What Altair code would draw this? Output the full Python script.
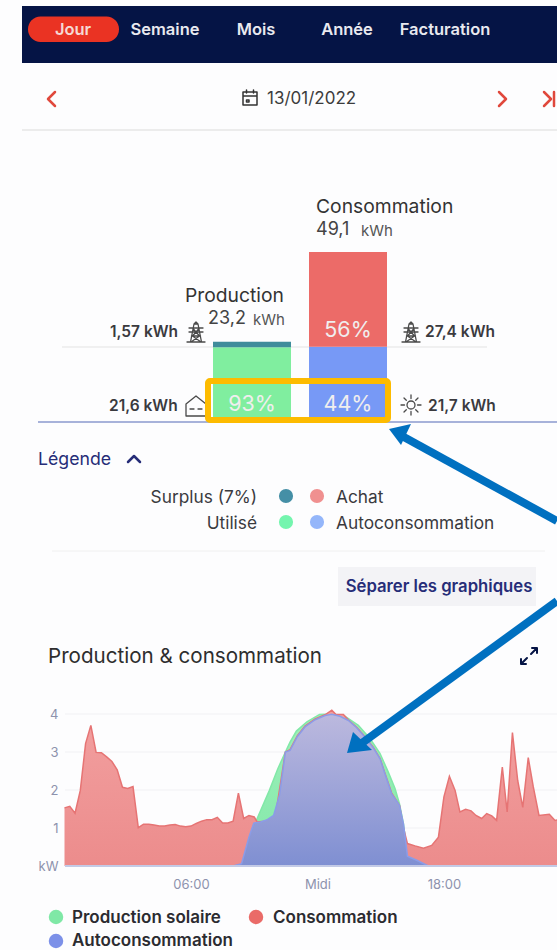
import altair as alt
import pandas as pd

# Daily energy balance, kWh
bar_columns = ["Production", "Production", "Consommation", "Consommation"]
bar_parts = ["Utilisé", "Surplus", "Autoconsommation", "Achat"]
bar_kwh = [21.6, 1.57, 21.7, 27.4]
bar_order = [0, 1, 0, 1]
bar_colors = ["#80ee9f", "#3f8c9b", "#7799f6", "#ec6b68"]
pct_labels = ["93%", "44%", "56%"]
pct_columns = ["Production", "Consommation", "Consommation"]
pct_level = [4.9, 4.9, 26.2]

# Power curves, kW against the hour of the day
cons_h = [0, .25, .5, .75, 1, 1.25, 1.5, 1.75, 2, 2.25, 2.5, 2.75, 3, 3.25, 3.5, 3.75, 4, 4.25, 4.5, 4.75,
          5, 5.25, 5.5, 5.75, 6, 6.25, 6.5, 6.75, 7, 7.25, 7.5, 7.75, 8, 8.25, 8.5, 8.75, 9, 9.14, 9.5, 10, 10.48,
          10.7, 11.05, 11.41, 11.89, 12.36, 12.68, 12.87, 13.23, 13.47, 13.86, 14.26, 14.65, 14.97, 15.2, 15.52,
          15.89, 16.08, 16.27, 16.63, 17.03, 17.42, 17.74, 18.0, 18.26, 18.53, 18.76, 19.03, 19.29, 19.52, 19.79,
          20.03, 20.27, 20.5, 20.77, 21.0, 21.25, 21.5, 21.74, 22.0, 22.24, 22.51, 23.0, 23.27, 23.5]
cons_kw = [1.53, 1.57, 1.39, 1.99, 3.22, 3.7, 2.99, 2.98, 2.87, 2.75, 2.53, 2.07, 2.04, 2.09, 1.01, 1.1, 1.1, 1.08, 1.05, 1.05,
           1.08, 1.09, 1.05, 1.03, 1.05, 1.12, 1.18, 1.22, 1.22, 1.28, 1.13, 1.13, 1.18, 1.92, 1.25, 1.33, 1.29, 1.16, 1.18, 1.3, 3.0,
           3.06, 3.43, 3.68, 3.87, 3.98, 4.1, 3.99, 3.99, 3.84, 3.65, 3.4, 3.12, 2.83, 2.44, 1.92,
           1.6, 1.0, .59, .53, .47, .54, .76, 1.82, 2.36, 1.99, 1.42, 1.49, 1.45, 1.33, 1.25,
           1.38, 1.32, 1.2, 2.6, 1.42, 3.51, 2.25, 1.54, 2.85, 2.08, 1.33, 1.36, 1.2, 1.22]
prod_h = [8.0, 8.4, 8.75, 9.14, 9.72, 10.12, 10.48, 10.7, 11.0, 11.5, 12.1, 12.68, 13.3, 13.94, 14.5, 14.97, 15.36,
          15.68, 15.89, 16.08, 16.27, 16.71, 17.26]
prod_kw = [0, .06, .76, 1.25, 1.99, 2.56, 3.0, 3.26, 3.55, 3.79, 3.99, 4.0, 3.94, 3.7, 3.35, 2.96, 2.47,
           2.04, 1.64, 1.11, .26, .15, 0]
auto_h = [8.0, 8.4, 8.75, 8.98, 9.3, 9.62, 9.92, 10.2, 10.48, 10.7, 11.05, 11.41, 11.89, 12.36, 12.68, 13.07, 13.47,
          13.86, 14.26, 14.65, 14.97, 15.2, 15.52, 15.89, 16.08, 16.27, 16.71, 17.26]
auto_kw = [0, .06, .76, 1.13, 1.16, 1.22, 1.33, 1.86, 3.0, 3.04, 3.41, 3.66, 3.85, 3.96, 3.99, 3.94, 3.83,
           3.64, 3.39, 3.11, 2.82, 2.43, 1.9, 1.6, 1.11, .26, .15, 0]

kw_grid = [1, 2, 3, 4]
dummy = alt.Data(values=[{"k": 0}])

FONT = "Inter"
NAVY = "#051445"
INK = "#3a3a3e"
INDIGO = "#262d78"
RED = "#e0483c"
ARROW = "#0070c0"
SEMI = 600


def box(x, x2, y, y2, color, radius=0):
    return alt.Chart(dummy).mark_rect(color=color, cornerRadius=radius).encode(
        x=alt.value(x), x2=alt.value(x2), y=alt.value(y), y2=alt.value(y2))


def label(text, x, y, size=15, color=INK, weight="normal", align="left"):
    return alt.Chart(dummy).mark_text(
        text=text, font=FONT, fontSize=size, color=color, fontWeight=weight,
        align=align, baseline="middle").encode(x=alt.value(x), y=alt.value(y + 1))


def hline(x, x2, y, color, width=1):
    return alt.Chart(dummy).mark_rule(color=color, strokeWidth=width).encode(
        x=alt.value(x), x2=alt.value(x2), y=alt.value(y))


def glyph(path, x, y, color, width=1.5):
    """Outlined symbol; the path is written in pixels around its anchor."""
    return alt.Chart(dummy).mark_point(
        shape=path, size=4, filled=False, stroke=color, strokeWidth=width,
        opacity=1, strokeCap="round", strokeJoin="round").encode(x=alt.value(x), y=alt.value(y))


def solid(path, x, y, color):
    return alt.Chart(dummy).mark_point(
        shape=path, size=4, filled=True, fill=color, stroke=color, strokeWidth=0,
        opacity=1).encode(x=alt.value(x), y=alt.value(y))


def dot(x, y, color, size=200):
    return alt.Chart(dummy).mark_circle(color=color, size=size, opacity=1).encode(
        x=alt.value(x), y=alt.value(y))


PYLON = "M-9,10H9M-5.5,10L-2,-8H2L5.5,10M-2,-8L0,-10L2,-8M-7,-4H7M-7,0H7M-4.5,4H4.5M-3.5,4L3.5,-4M3.5,4L-3.5,-4M-5,10L3.5,4M5,10L-3.5,4"
HOUSE = "M-10,10V-2L0,-10L10,-2V10ZM-6,3H-2M2,3H6"
SUN = ("M-4,0A4,4 0 1 1 4,0A4,4 0 1 1 -4,0ZM-10,0H-6.5M6.5,0H10M0,-10V-6.5M0,6.5V10"
       "M-7,-7L-4.7,-4.7M7,-7L4.7,-4.7M-7,7L-4.7,4.7M7,7L4.7,4.7")
CALENDAR = "M-7,-6H7V7H-7ZM-7,-2H7M-3.5,-8V-5M3.5,-8V-5M-3.5,2H-1V4H-3.5Z"
CHEV_L = "M4,-7L-3,0L4,7"
CHEV_R = "M-3,-7L4,0L-3,7"
CHEV_END = "M-5,-7L2,0L-5,7M5,-7V7"
CHEV_UP = "M-6,3L0,-3L6,3"
EXPAND = "M2,-2L8,-8M3,-8H8V-3M-2,2L-8,8M-3,8H-8V3"
HEAD_A = "M0,0L22,-5L12,16Z"
HEAD_B = "M0,0L6,-21L25,-3Z"

chrome = [
    box(22, 557, 6, 63, NAVY),
    box(28, 119, 16.5, 42, "#ea3323", 12.5),
    label("Jour", 73, 29, 16.5, "#f6d9d4", SEMI, "center"),
    label("Semaine", 165, 29, 16.5, "#e9e9ef", SEMI, "center"),
    label("Mois", 256, 29, 16.5, "#e9e9ef", SEMI, "center"),
    label("Année", 347, 29, 16.5, "#e9e9ef", SEMI, "center"),
    label("Facturation", 445, 29, 16.5, "#e9e9ef", SEMI, "center"),
    glyph(CALENDAR, 250, 98, "#333333"),
    label("13/01/2022", 267, 98, 17, "#3c3c3c"),
    glyph(CHEV_L, 51, 99, RED, 2.5),
    glyph(CHEV_R, 502, 99, RED, 2.5),
    glyph(CHEV_END, 549, 99, RED, 2.5),
    hline(22, 557, 130, "#ececec", 2),
    hline(62, 487, 347, "#e3e3e3", 1),
    hline(38, 557, 422, "#a7b2da", 2),
]

# Stacked bars on their own kWh scale
bar_df = pd.DataFrame({"col": bar_columns, "part": bar_parts, "kwh": bar_kwh, "ord": bar_order})
bar_x = alt.Scale(type="band", domain=["Production", "Consommation"], range=[213, 387], paddingInner=0.1875, paddingOuter=0)
bar_y = alt.Scale(domain=[0, 49.1], range=[422, 252])
bars = alt.Chart(bar_df).mark_bar().encode(
    x=alt.X("col:N", scale=bar_x, axis=None),
    y=alt.Y("kwh:Q", stack="zero", scale=bar_y, axis=None),
    order=alt.Order("ord:Q"),
    color=alt.Color("part:N", scale=alt.Scale(domain=bar_parts, range=bar_colors), legend=None),
)
pct_df = pd.DataFrame({"col": pct_columns, "txt": pct_labels, "lvl": pct_level})
pct_text = alt.Chart(pct_df).mark_text(font=FONT, fontSize=21.5, color="#f0eeee", baseline="middle").encode(
    x=alt.X("col:N", scale=bar_x, axis=None),
    y=alt.Y("lvl:Q", scale=bar_y, axis=None),
    text="txt:N",
)

bar_labels = [
    label("Consommation", 316, 206, 19.3, "#333333"),
    label("49,1", 316, 229, 18, "#444444"),
    label("kWh", 361, 230, 15, "#555555"),
    label("Production", 185, 295, 19.3, "#333333"),
    label("23,2", 208, 318, 18, "#444444"),
    label("kWh", 253, 319, 15, "#555555"),
    label("1,57 kWh", 110, 331, 15.5, INK, SEMI),
    label("27,4 kWh", 425, 331, 15.5, INK, SEMI),
    label("21,6 kWh", 109, 405, 15.5, INK, SEMI),
    label("21,7 kWh", 428, 405, 15.5, INK, SEMI),
    glyph(PYLON, 196, 332, "#4a4a4a", 1.3),
    glyph(PYLON, 411, 332, "#4a4a4a", 1.3),
    glyph(HOUSE, 196, 406, "#4a4a4a", 1.3),
    glyph(SUN, 411, 405, "#4a4a4a", 1.3),
]

legend_panel = [
    label("Légende", 38, 459, 17.7, INDIGO),
    glyph(CHEV_UP, 134, 459, INDIGO, 2.5),
    label("Surplus (7%)", 257, 497, 17.3, INK, "normal", "right"),
    label("Utilisé", 257, 523, 17.3, INK, "normal", "right"),
    label("Achat", 336, 497, 17.3, INK),
    label("Autoconsommation", 336, 523, 17.3, INK),
    dot(286, 496, "#458fa6"),
    dot(317, 496, "#f09090"),
    dot(286, 522, "#74f5ae"),
    dot(317, 522, "#94b6fa"),
    hline(52, 545, 551, "#f0f0f0", 1),
    box(338, 536, 567, 606, "#f3f3f6"),
    label("Séparer les graphiques", 439, 586, 16.7, INDIGO, SEMI, "center"),
    label("Production & consommation", 48, 656, 20.6, "#2e2e2e"),
    glyph(EXPAND, 529, 656, NAVY, 2),
]

# Power panel
hour_scale = alt.Scale(domain=[0, 24], range=[64.5, 570.4])
kw_scale = alt.Scale(domain=[0, 4], range=[866, 714])


def gradient(top, bottom):
    return alt.Gradient(gradient="linear", x1=0, y1=0, x2=0, y2=1,
                        stops=[alt.GradientStop(color=top, offset=0),
                               alt.GradientStop(color=bottom, offset=1)])


def curve(hours, values, top, bottom, line_color, axes=False):
    y_axis = None
    x_axis = None
    if axes:
        y_axis = alt.Axis(values=[0, 1, 2, 3, 4], offset=-58, domain=False, ticks=False, grid=False,
                          labelFont=FONT, labelFontSize=13, labelColor="#8d92ad", labelPadding=0,
                          labelExpr="datum.value === 0 ? 'kW' : datum.label", title=None)
        x_axis = alt.Axis(values=[6, 12, 18], offset=-84, domain=False, ticks=False, grid=False,
                          labelFont=FONT, labelFontSize=13, labelColor="#8d92ad", labelPadding=12,
                          labelExpr="datum.value === 6 ? '06:00' : datum.value === 12 ? 'Midi' : '18:00'",
                          title=None)
    return alt.Chart(pd.DataFrame({"h": hours, "kw": values})).mark_area(
        color=gradient(top, bottom), clip=True, interpolate="linear", opacity=1,
        line=alt.LineConfig(color=line_color, strokeWidth=1.5)).encode(
        x=alt.X("h:Q", scale=hour_scale, axis=x_axis),
        y=alt.Y("kw:Q", scale=kw_scale, axis=y_axis),
    )


grid = alt.Chart(pd.DataFrame({"kw": kw_grid})).mark_rule(color="#f1f1f4", strokeWidth=1).encode(
    x=alt.value(65), x2=alt.value(557), y=alt.Y("kw:Q", scale=kw_scale, axis=None))
base = alt.Chart(pd.DataFrame({"kw": [0]})).mark_rule(color="#c3cae6", strokeWidth=2).encode(
    x=alt.value(65), x2=alt.value(557), y=alt.Y("kw:Q", scale=kw_scale, axis=None))

power = [
    grid,
    curve(prod_h, prod_kw, "#9ef0bb", "#82e8a8", "#82e8a8"),
    curve(cons_h, cons_kw, "#f2a0a0", "#ec8c8c", "#e67474", axes=True),
    curve(auto_h, auto_kw, "#bcb9de", "#7f8fd2", "#8b9ce8"),
    base,
]

bottom_legend = [
    dot(56, 917, "#7fe8a6", 210),
    label("Production solaire", 72, 917, 17, "#2b2b30", SEMI),
    dot(256, 917, "#ea6b68", 210),
    label("Consommation", 273, 917, 17, "#2b2b30", SEMI),
    dot(56, 941, "#7c90e8", 210),
    label("Autoconsommation", 72, 940, 17, "#2b2b30", SEMI),
]


def shaft(x, y, x2, y2):
    return alt.Chart(dummy).mark_rule(color=ARROW, strokeWidth=8).encode(
        x=alt.value(x), y=alt.value(y), x2=alt.value(x2), y2=alt.value(y2))


overlays = [
    alt.Chart(dummy).mark_rect(fillOpacity=0, stroke="#fdbb00", strokeWidth=6, cornerRadius=2).encode(
        x=alt.value(208), x2=alt.value(388), y=alt.value(381), y2=alt.value(420)),
    shaft(557, 521, 402, 436),
    solid(HEAD_A, 389, 429, ARROW),
    shaft(557, 601, 362, 743),
    solid(HEAD_B, 347, 753, ARROW),
]

layers = chrome + [bars, pct_text] + bar_labels + legend_panel + power + bottom_legend + overlays

chart = alt.layer(*layers).resolve_scale(x="independent", y="independent", color="independent").properties(
    width=557, height=950, padding=0, autosize=alt.AutoSizeParams(type="none"), background="#fdfdfe",
).configure_view(stroke=None)

chart.save("out.html", embed_options={"renderer": "svg", "actions": False})
